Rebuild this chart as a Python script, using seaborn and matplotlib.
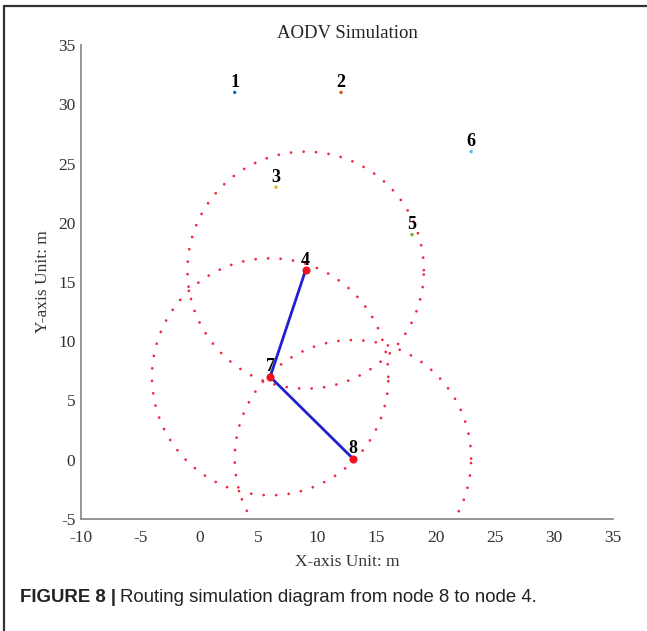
import numpy as np
import pandas as pd
import matplotlib
matplotlib.use("Agg")
import matplotlib.pyplot as plt
from matplotlib.lines import Line2D
import seaborn as sns

# ---- data ----
node_ids = [1, 2, 3, 4, 5, 6, 7, 8]
node_x = [3, 12, 6.5, 9, 18, 23, 6, 13]
node_y = [31, 31, 23, 16, 19, 26, 7, 0.1]
route = [8, 7, 4]
radius = 10
x_ticks = [-10, -5, 0, 5, 10, 15, 20, 25, 30, 35]
y_ticks = [-5, 0, 5, 10, 15, 20, 25, 30, 35]
node_colors = ["#0072BD", "#D95319", "#EDB120", "#7E2F8E",
               "#77AC30", "#4DBEEE", "#A2142F", "#0072BD"]

title = "AODV Simulation"
xlabel = "X-axis Unit: m"
ylabel = "Y-axis Unit: m"
caption_bold = "FIGURE 8 |"
caption_text = "Routing simulation diagram from node 8 to node 4."

sns.set_style("white")
plt.rcParams["font.family"] = ["Liberation Serif", "DejaVu Serif"]

df = pd.DataFrame({"node": [str(n) for n in node_ids], "x": node_x, "y": node_y})
route_df = df.set_index("node").loc[[str(n) for n in route]].reset_index()

fig = plt.figure(figsize=(6.47, 6.31), dpi=100)
ax = fig.add_axes([81 / 647, 1 - 519 / 631, 532 / 647, 474 / 631])

# dotted communication-range circles around the route nodes
theta = np.linspace(0, 2 * np.pi, 400)
for _, r in route_df.iterrows():
    ax.plot(r["x"] + radius * np.cos(theta), r["y"] + radius * np.sin(theta),
            color="#f0283c", lw=2.0, linestyle=(0, (0.01, 4.5)),
            dash_capstyle="round", zorder=2)

# route path
sns.lineplot(data=route_df, x="x", y="y", sort=False, estimator=None,
             color="#2020cc", lw=2.0, ax=ax, zorder=3)

# all nodes as small dots
sns.scatterplot(data=df, x="x", y="y", hue="node", palette=node_colors,
                s=6, linewidth=0, legend=False, ax=ax, zorder=4)

# route nodes highlighted
sns.scatterplot(data=route_df, x="x", y="y", color="#f01020", s=34,
                linewidth=0, legend=False, ax=ax, zorder=5)

for _, r in df.iterrows():
    ax.annotate(r["node"], (r["x"], r["y"]), xytext=(0, 1),
                textcoords="offset points", ha="center", va="bottom",
                fontsize=13, fontweight="bold", color="black", zorder=6)

ax.set_xlim(-10, 35)
ax.set_ylim(-5, 35)
ax.set_xticks(x_ticks)
ax.set_yticks(y_ticks)
ax.set_xticklabels([str(t) for t in x_ticks])
ax.set_yticklabels([str(t) for t in y_ticks])

for s in ["top", "right"]:
    ax.spines[s].set_visible(False)
for s in ["left", "bottom"]:
    ax.spines[s].set_color("#8c8c8c")
    ax.spines[s].set_linewidth(1.3)
ax.tick_params(direction="in", length=4, width=1, color="#8c8c8c",
               labelsize=12.5, labelcolor="#333333")
ax.tick_params(axis="x", pad=8)
ax.tick_params(axis="y", pad=4)

ax.set_xlabel(xlabel, fontsize=12.5, color="#333333", labelpad=6)
ax.set_ylabel(ylabel, fontsize=12.5, color="#333333", labelpad=5)
ax.set_title(title, fontsize=13.5, color="#222222", pad=5)

# caption
t1 = fig.text(20 / 647, 1 - 598 / 631, caption_bold, family="Liberation Sans",
              fontweight="bold", fontsize=13.4, va="center", ha="left", color="#222222")
fig.canvas.draw()
bb = t1.get_window_extent(renderer=fig.canvas.get_renderer())
fig.text((bb.x1 + 4) / 647, 1 - 598 / 631, caption_text, family="Liberation Sans",
         fontsize=13.4, va="center", ha="left", color="#222222")

# frame lines (top and left)
fig.add_artist(Line2D([4 / 647, 1.0], [1 - 6 / 631, 1 - 6 / 631],
                      transform=fig.transFigure, color="#333333", lw=1.6))
fig.add_artist(Line2D([4 / 647, 4 / 647], [0, 1 - 6 / 631],
                      transform=fig.transFigure, color="#333333", lw=1.6))

fig.savefig("out.png", dpi=100)
